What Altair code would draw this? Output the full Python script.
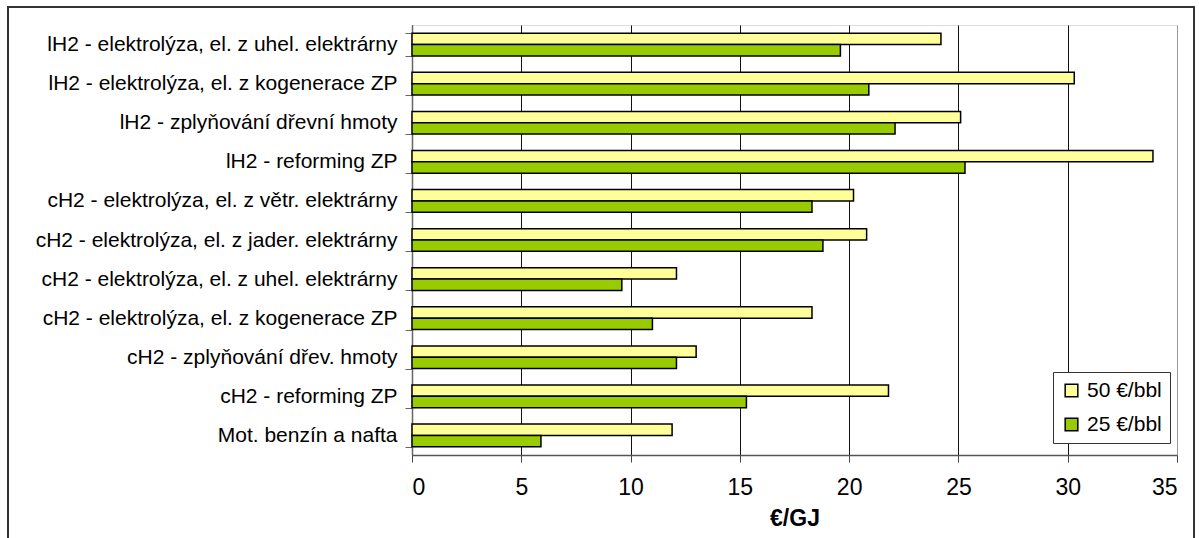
import altair as alt
import pandas as pd

categories = [
    "lH2 - elektrolýza, el. z uhel. elektrárny",
    "lH2 - elektrolýza, el. z kogenerace ZP",
    "lH2 - zplyňování dřevní hmoty",
    "lH2 - reforming ZP",
    "cH2 - elektrolýza, el. z větr. elektrárny",
    "cH2 - elektrolýza, el. z jader. elektrárny",
    "cH2 - elektrolýza, el. z uhel. elektrárny",
    "cH2 - elektrolýza, el. z kogenerace ZP",
    "cH2 - zplyňování dřev. hmoty",
    "cH2 - reforming ZP",
    "Mot. benzín a nafta",
]
series_names = ["50 €/bbl", "25 €/bbl"]
values_50 = [24.2, 30.3, 25.1, 33.9, 20.2, 20.8, 12.1, 18.3, 13.0, 21.8, 11.9]
values_25 = [19.6, 20.9, 22.1, 25.3, 18.3, 18.8, 9.6, 11.0, 12.1, 15.3, 5.9]
colors = ["#FFFF99", "#99CC00"]
x_ticks = [0, 5, 10, 15, 20, 25, 30, 35]

rows = []
for c, v in zip(categories, values_50):
    rows.append({"cat": c, "series": series_names[0], "value": v})
for c, v in zip(categories, values_25):
    rows.append({"cat": c, "series": series_names[1], "value": v})
df = pd.DataFrame(rows)

FONT = "Liberation Sans"

bars = alt.Chart(df).mark_bar(stroke="#000000", strokeWidth=1.5).encode(
    y=alt.Y(
        "cat:N",
        sort=categories,
        scale=alt.Scale(paddingInner=0.42, paddingOuter=0.21),
        axis=alt.Axis(
            title=None,
            labelFont=FONT,
            labelFontSize=21,
            labelColor="#000000",
            labelLimit=500,
            labelPadding=8,
            tickBand="extent",
            tickSize=7,
            tickColor="#666666",
            domainColor="#666666",
            domainWidth=1.5,
            grid=False,
        ),
    ),
    yOffset=alt.YOffset("series:N", sort=series_names, scale=alt.Scale(paddingInner=0, paddingOuter=0)),
    x=alt.X(
        "value:Q",
        scale=alt.Scale(domain=[0, 35], nice=False),
        axis=alt.Axis(
            title="€/GJ",
            titleFont=FONT,
            titleFontSize=23,
            titleFontWeight="bold",
            titleColor="#000000",
            titlePadding=8,
            values=x_ticks,
            labelFont=FONT,
            labelFontSize=23,
            labelColor="#000000",
            labelPadding=14,
            tickSize=7,
            tickColor="#444444",
            domainColor="#555555",
            domainWidth=1.5,
            grid=True,
            gridColor={"condition": {"test": "datum.value === 35", "value": "#999999"}, "value": "#111111"},
            gridWidth=1,
        ),
    ),
    color=alt.Color(
        "series:N",
        sort=series_names,
        scale=alt.Scale(domain=series_names, range=colors),
        legend=alt.Legend(
            title=None,
            orient="none",
            legendX=641,
            legendY=347,
            fillColor="#FFFFFF",
            strokeColor="#333333",
            padding=8,
            symbolType="square",
            symbolSize=160,
            symbolStrokeColor="#000000",
            symbolStrokeWidth=1.5,
            labelFont=FONT,
            labelFontSize=21,
            labelColor="#000000",
            rowPadding=12,
            labelOffset=5,
        ),
    ),
)

frame = alt.Chart(alt.Data(values=[{"k": 1}])).mark_rect(
    fill=None, stroke="#333333", strokeWidth=2
).encode(
    x=alt.value(-404), x2=alt.value(782), y=alt.value(-18), y2=alt.value(560)
)

chart = alt.layer(bars, frame).properties(
    width=765,
    height=430,
    autosize=alt.AutoSizeParams(type="none"),
    padding={"left": 412, "top": 25, "right": 22, "bottom": 83},
).configure_view(stroke="#999999", strokeWidth=2).configure(background="#FFFFFF")

chart.save("out.html", embed_options={"renderer": "svg", "actions": False})
